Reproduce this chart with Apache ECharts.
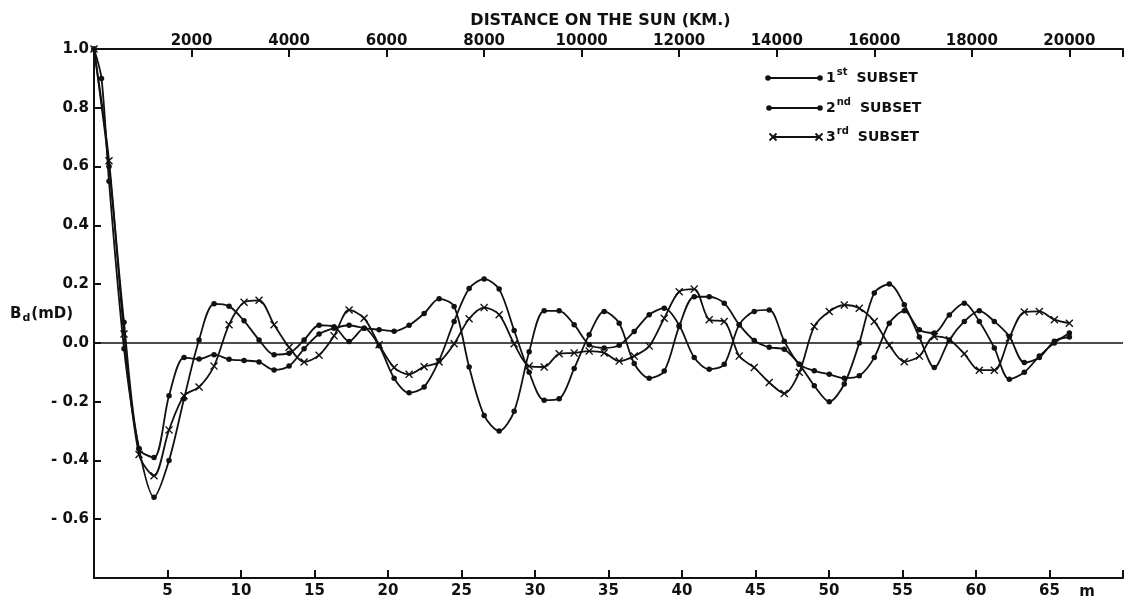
<!DOCTYPE html>
<html>
<head>
<meta charset="utf-8">
<script src="https://cdn.jsdelivr.net/npm/echarts@6/dist/echarts.min.js"></script>
<style>
  html, body { margin: 0; padding: 0; background: #ffffff; }
  #chart { width: 1126px; height: 600px; }
</style>
</head>
<body>
<div id="chart"></div>
<script>
// Sample index m (one step = 20000/65 km on the solar surface)
const STEPS = [0,1,2,3,4,5,6,7,8,9,10,11,12,13,14,15,16,17,18,19,20,21,22,23,24,25,26,27,28,29,30,31,32,
  33,34,35,36,37,38,39,40,41,42,43,44,45,46,47,48,49,50,51,52,53,54,55,56,57,58,59,60,61,62,63,64,65];

// B_d (mD) for each subset, one value per step
const SUBSET_1 = [1.0,0.55,-0.02,-0.36,-0.525,-0.40,-0.19,0.01,0.133,0.125,0.075,0.01,-0.04,-0.035,0.01,0.06,
  0.055,0.005,0.05,-0.01,-0.12,-0.17,-0.15,-0.06,0.073,0.185,0.217,0.183,0.042,-0.10,-0.195,-0.19,-0.087,
  0.028,0.107,0.067,-0.07,-0.12,-0.096,0.056,0.157,0.157,0.135,0.062,0.008,-0.015,-0.022,-0.073,-0.146,-0.2,
  -0.14,0.0,0.17,0.2,0.13,0.02,-0.084,0.01,0.073,0.109,0.073,0.022,-0.067,-0.05,0.006,0.02];
// the first subset also has a sample half a step from the origin
const SUBSET_1_HALF_STEP = [0.5, 0.9];

const SUBSET_2 = [1.0,0.6,0.07,-0.36,-0.39,-0.18,-0.05,-0.055,-0.04,-0.056,-0.06,-0.065,-0.092,-0.079,-0.02,
  0.03,0.05,0.06,0.05,0.045,0.04,0.06,0.1,0.15,0.124,-0.082,-0.247,-0.30,-0.233,-0.03,0.109,0.109,0.062,
  -0.006,-0.017,-0.008,0.039,0.096,0.118,0.06,-0.05,-0.09,-0.073,0.062,0.107,0.112,0.006,-0.073,-0.095,-0.107,
  -0.12,-0.112,-0.05,0.067,0.109,0.045,0.034,0.095,0.135,0.073,-0.017,-0.124,-0.10,-0.045,0.0,0.034];

const SUBSET_3 = [1.0,0.62,0.03,-0.38,-0.452,-0.296,-0.18,-0.15,-0.079,0.062,0.138,0.145,0.062,-0.015,-0.065,
  -0.042,0.024,0.112,0.084,-0.006,-0.084,-0.107,-0.081,-0.065,-0.003,0.082,0.12,0.096,-0.003,-0.079,-0.082,
  -0.037,-0.034,-0.028,-0.034,-0.062,-0.045,-0.011,0.084,0.174,0.183,0.079,0.073,-0.045,-0.084,-0.135,-0.172,
  -0.10,0.056,0.107,0.129,0.118,0.073,-0.008,-0.064,-0.045,0.022,0.011,-0.037,-0.093,-0.093,0.017,0.105,0.107,
  0.079,0.067];

const SERIES_NAMES = ['1st SUBSET', '2nd SUBSET', '3rd SUBSET'];
const KM_TICK_LABELS = ['2000','4000','6000','8000','10000','12000','14000','16000','18000','20000'];
const M_TICK_LABELS = ['5','10','15','20','25','30','35','40','45','50','55','60','65'];

const KM_PER_STEP = 20000 / 65;
const INK = '#111111';
const FONT = 'DejaVu Sans';
const CROSS = 'path://M0,1.2L1.2,0L5,3.8L8.8,0L10,1.2L6.2,5L10,8.8L8.8,10L5,6.2L1.2,10L0,8.8L3.8,5Z';

function toPoints(values) {
  return STEPS.map((m, i) => [m * KM_PER_STEP, values[i]]);
}
const pts1 = toPoints(SUBSET_1);
pts1.splice(1, 0, [SUBSET_1_HALF_STEP[0] * KM_PER_STEP, SUBSET_1_HALF_STEP[1]]);

const chart = echarts.init(document.getElementById('chart'), null, { renderer: 'canvas' });

const lineSeries = (name, data, symbol, size) => ({
  name, type: 'line', xAxisIndex: 1, yAxisIndex: 0, data,
  smooth: 0.3, symbol, symbolSize: size, showSymbol: true,
  lineStyle: { color: INK, width: 1.8 },
  itemStyle: { color: INK, borderWidth: 0 },
  animation: false, z: 3
});

// legend row: short line with a marker at each end, then the label
const legendRow = (y, sym, sup, lead, x1, x2) => {
  const mk = (x) => sym === 'dot'
    ? [{ type: 'circle', shape: { cx: x, cy: y, r: 2.8 }, style: { fill: INK } }]
    : [
        { type: 'line', shape: { x1: x - 3.5, y1: y - 3.5, x2: x + 3.5, y2: y + 3.5 }, style: { stroke: INK, lineWidth: 1.8 } },
        { type: 'line', shape: { x1: x + 3.5, y1: y - 3.5, x2: x - 3.5, y2: y + 3.5 }, style: { stroke: INK, lineWidth: 1.8 } }
      ];
  return [
    { type: 'line', shape: { x1, y1: y, x2, y2: y }, style: { stroke: INK, lineWidth: 1.8 } },
    ...mk(x1), ...mk(x2),
    { type: 'text', x: 826, y: y - 1, style: {
        text: '{n|' + lead + '}{s|' + sup + '}{t|SUBSET}',
        verticalAlign: 'middle',
        rich: {
          n: { fontFamily: FONT, fontSize: 14, fontWeight: 'bold', fill: INK, padding: [2, 0, 0, 0] },
          s: { fontFamily: FONT, fontSize: 10, fontWeight: 'bold', fill: INK, padding: [0, 0, 10, 1] },
          t: { fontFamily: FONT, fontSize: 14, fontWeight: 'bold', fill: INK, padding: [2, 0, 0, 9] }
        } } }
  ];
};

const option = {
  backgroundColor: '#ffffff',
  animation: false,
  grid: { left: 94, right: 0, top: 49, bottom: 18, containLabel: false },
  xAxis: [
    {
      type: 'value', position: 'bottom', min: 0, max: 70, interval: 5,
      name: 'm', nameLocation: 'end', nameGap: 0,
      nameTextStyle: { fontFamily: FONT, fontSize: 15, fontWeight: 'bold', color: INK, align: 'right', verticalAlign: 'top', padding: [7, 28, 0, 0] },
      axisLine: { show: true, onZero: false, lineStyle: { color: INK, width: 2 } },
      axisTick: { show: true, inside: true, length: 8, lineStyle: { color: INK, width: 2 } },
      axisLabel: {
        margin: 6, fontFamily: FONT, fontSize: 15, fontWeight: 'bold', color: INK,
        formatter: (v) => M_TICK_LABELS.includes(String(v)) ? String(v) : ''
      },
      splitLine: { show: false }
    },
    {
      type: 'value', position: 'top', min: 0, max: 21100, interval: 2000,
      name: 'DISTANCE ON THE SUN (KM.)', nameLocation: 'middle', nameGap: 20,
      nameTextStyle: { fontFamily: FONT, fontSize: 16, fontWeight: 'bold', color: INK, padding: [0, 16, 0, 0] },
      axisLine: { show: true, onZero: false, lineStyle: { color: INK, width: 2 } },
      axisTick: { show: true, inside: true, length: 8, lineStyle: { color: INK, width: 2 } },
      axisLabel: {
        margin: 0, fontFamily: FONT, fontSize: 15, fontWeight: 'bold', color: INK,
        formatter: (v) => KM_TICK_LABELS.includes(String(v)) ? String(v) : ''
      },
      splitLine: { show: false }
    }
  ],
  yAxis: {
    type: 'value', min: -0.8, max: 1.0, interval: 0.2,
    axisLine: { show: true, onZero: false, lineStyle: { color: INK, width: 2 } },
    axisTick: { show: true, inside: true, length: 7, lineStyle: { color: INK, width: 2 } },
    axisLabel: {
      margin: 5, fontFamily: FONT, fontSize: 15, fontWeight: 'bold', color: INK,
      formatter: (v) => {
        if (v < -0.7) return '';
        const r = Math.round(v * 10) / 10;
        return r < 0 ? '- ' + Math.abs(r).toFixed(1) : r.toFixed(1);
      }
    },
    splitLine: { show: false }
  },
  series: [
    Object.assign(lineSeries(SERIES_NAMES[0], pts1, 'circle', 5.5), {
      markLine: {
        silent: true, symbol: ['none', 'none'], label: { show: false },
        lineStyle: { color: INK, width: 1.5, type: 'solid' },
        data: [{ yAxis: 0 }]
      }
    }),
    lineSeries(SERIES_NAMES[1], toPoints(SUBSET_2), 'circle', 5.5),
    lineSeries(SERIES_NAMES[2], toPoints(SUBSET_3), CROSS, 8)
  ],
  graphic: [
    { type: 'text', x: 10, y: 314, style: {
        text: '{b|B}{d|d}{b|(mD)}', verticalAlign: 'middle',
        rich: {
          b: { fontFamily: FONT, fontSize: 15, fontWeight: 'bold', fill: INK },
          d: { fontFamily: FONT, fontSize: 11, fontWeight: 'bold', fill: INK, padding: [8, 1, 0, 1] }
        } } },
    ...legendRow(78, 'dot', 'st', '1', 768, 820),
    ...legendRow(108, 'dot', 'nd', '2', 769, 820),
    ...legendRow(137, 'cross', 'rd', '3', 773, 819)
  ]
};

chart.setOption(option);
</script>
</body>
</html>
